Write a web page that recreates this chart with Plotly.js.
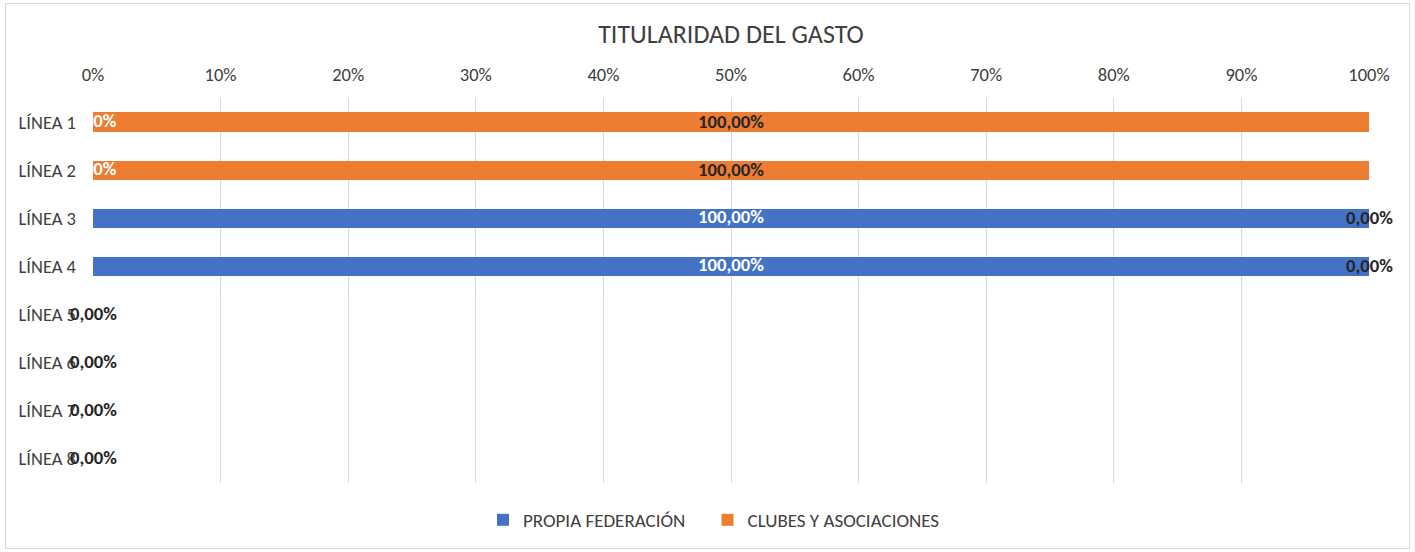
<!DOCTYPE html>
<html>
<head>
<meta charset="utf-8">
<script src="https://cdn.plot.ly/plotly-3.0.1.min.js"></script>
<style>
body{margin:0;padding:0;background:#fff;}
#wrap{position:relative;width:1415px;height:552px;}
#chart{width:1415px;height:552px;}
#frame{position:absolute;left:5px;top:3px;width:1403px;height:544px;border:1px solid #d9d9d9;pointer-events:none;}
</style>
</head>
<body>
<div id="wrap"><div id="chart"></div><div id="frame"></div></div>
<script>
const categories = ["LÍNEA 1","LÍNEA 2","LÍNEA 3","LÍNEA 4","LÍNEA 5","LÍNEA 6","LÍNEA 7","LÍNEA 8"];
const propiaFederacion = [0,0,100,100,0,0,0,0];
const clubesAsociaciones = [100,100,0,0,0,0,0,0];
const seriesNames = ["PROPIA FEDERACIÓN","CLUBES Y ASOCIACIONES"];
const xTickValues = [0,10,20,30,40,50,60,70,80,90,100];

const FONT = "Carlito, Calibri, Lato, 'Liberation Sans', sans-serif";
const BLUE = "#4472c4", ORANGE = "#ed7d31";
const fmt = v => v.toFixed(2).replace('.', ',') + '%';
const PAD = '\u00a0\u00a0\u00a0\u00a0';

const traces = [
  {type:'bar', orientation:'h', name:seriesNames[0] + PAD, y:categories, x:propiaFederacion,
   marker:{color:BLUE}, hoverinfo:'none'},
  {type:'bar', orientation:'h', name:seriesNames[1], y:categories, x:clubesAsociaciones,
   marker:{color:ORANGE}, hoverinfo:'none'},
  // data labels of the first series (white, clipped to the plot area)
  {type:'scatter', mode:'text', showlegend:false, hoverinfo:'none', cliponaxis:true,
   y:categories, x:propiaFederacion.map(v=>v/2),
   text:propiaFederacion.map(v=>'<b>'+fmt(v)+'</b>'), textposition:'middle center',
   textfont:{family:FONT,size:18.7,color:'#ffffff'}}
];

const annotations = [];
categories.forEach((c,i)=>{
  const a = propiaFederacion[i], b = clubesAsociaciones[i];
  annotations.push({x:a + b/2, y:c, xref:'x', yref:'y', text:'<b>'+fmt(b)+'</b>', showarrow:false,
    font:{family:FONT,size:18.7,color:'#262626'}, xanchor:'center', yanchor:'middle', yshift:1});
});

const layout = {
  width:1415, height:552,
  paper_bgcolor:'#ffffff', plot_bgcolor:'#ffffff',
  margin:{l:93, r:46, t:98, b:69},
  barmode:'stack', bargap:0.6,
  font:{family:FONT, size:18.5, color:'#404040'},
  title:{text:'TITULARIDAD DEL GASTO', font:{family:FONT,size:26,color:'#404040'},
         x:0.5, xanchor:'center', y:1-34/552, yanchor:'middle', xref:'paper'},
  xaxis:{side:'top', range:[0,100], tickvals:xTickValues, ticktext:xTickValues.map(v=>v+'%'),
         showgrid:true, gridcolor:'#d9d9d9', gridwidth:1, zeroline:false, showline:false,
         ticks:'', ticklabelstandoff:12, tickfont:{family:FONT,size:18.5,color:'#404040'}, fixedrange:true},
  yaxis:{autorange:'reversed', type:'category', showgrid:false, zeroline:false, showline:false,
         ticks:'', ticklabelstandoff:16, tickfont:{family:FONT,size:18.5,color:'#404040'}, fixedrange:true},
  legend:{orientation:'h', x:(483-93)/1276, xanchor:'left', y:-0.096, yanchor:'middle',
          font:{family:FONT,size:19,color:'#404040'}, traceorder:'normal', itemwidth:30},
  annotations:annotations,
  showlegend:true
};

Plotly.newPlot('chart', traces, layout, {displayModeBar:false, staticPlot:true});
</script>
</body>
</html>
